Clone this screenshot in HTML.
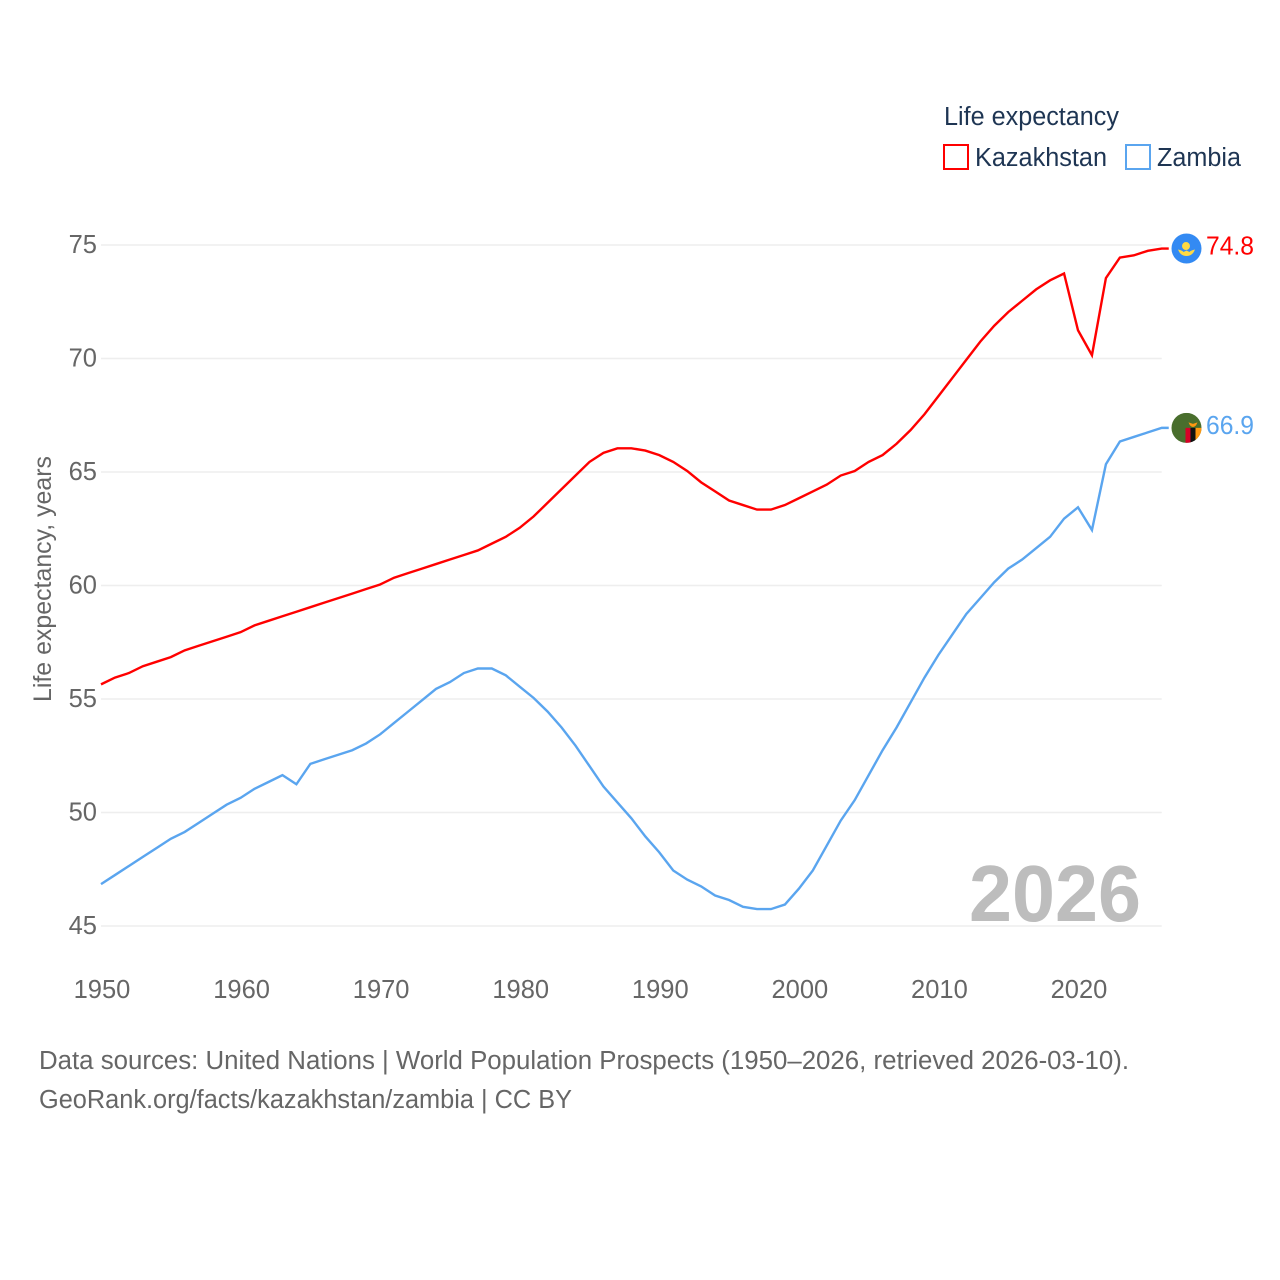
<!DOCTYPE html>
<html lang="en">
<head>
<meta charset="utf-8">
<title>Life expectancy: Kazakhstan and Zambia</title>
<style>
html,body{margin:0;padding:0;background:#fff;}
svg{display:block;}
text{font-family:"Liberation Sans",sans-serif;}
</style>
</head>
<body>
<svg id="chart" xmlns="http://www.w3.org/2000/svg" width="1280" height="1280" viewBox="0 0 1280 1280">
  <defs>
    <clipPath id="kz-clip"><circle cx="0" cy="0" r="15"/></clipPath>
    <clipPath id="zm-clip"><circle cx="0" cy="0" r="15"/></clipPath>
  </defs>
  <rect width="1280" height="1280" fill="#fff"/>
  <g id="grid"></g>
  <g id="yticks"></g>
  <g id="xticks"></g>
  <text transform="translate(51,702) rotate(-90)" font-size="25" fill="#666" textLength="246" lengthAdjust="spacingAndGlyphs">Life expectancy, years</text>
  <text x="969" y="921" font-size="80" font-weight="700" fill="#bdbdbd" textLength="172" lengthAdjust="spacingAndGlyphs">2026</text>
  <g id="series"></g>

  <g id="flag-kz">
    <g clip-path="url(#kz-clip)">
      <rect x="-15" y="-15" width="30" height="30" fill="#338af3"/>
      <circle cx="-0.5" cy="-2.5" r="4" fill="#ffda44"/>
      <path d="M-8.5 1 Q-4 2 -3 3.5 L0 2 L3 3.5 Q4 2 8.5 1 Q6 7.5 0 7.5 Q-6 7.5 -8.5 1Z" fill="#ffda44"/>
    </g>
  </g>
  <g id="flag-zm">
    <g clip-path="url(#zm-clip)">
      <rect x="-15" y="-15" width="30" height="30" fill="#496e2d"/>
      <rect x="-1" y="0" width="5" height="15" fill="#d80027"/>
      <rect x="4" y="0" width="5" height="15" fill="#111"/>
      <rect x="9" y="0" width="6" height="15" fill="#ff9811"/>
      <path d="M2 -5.5 L6.5 -4 L11 -5.5 L9.5 -2.5 L7.5 -1 L5.5 -1 L3.5 -2.5Z" fill="#ff9811"/>
    </g>
  </g>
  <text id="value-kz" font-size="25.5" fill="#ff0000" textLength="48" lengthAdjust="spacingAndGlyphs"></text>
  <text id="value-zm" font-size="25.5" fill="#5aa5ef" textLength="48" lengthAdjust="spacingAndGlyphs"></text>

  <g>
    <text x="944" y="125" font-size="25.5" fill="#1e3553" textLength="175" lengthAdjust="spacingAndGlyphs">Life expectancy</text>
    <g>
      <rect x="944" y="145" width="24" height="24" fill="#fff" stroke="#ff0000" stroke-width="2"/>
      <text x="975" y="166" font-size="25.5" fill="#1e3553" textLength="132" lengthAdjust="spacingAndGlyphs">Kazakhstan</text>
    </g>
    <g>
      <rect x="1126" y="145" width="24" height="24" fill="#fff" stroke="#5aa5ef" stroke-width="2"/>
      <text x="1157" y="166" font-size="25.5" fill="#1e3553" textLength="84" lengthAdjust="spacingAndGlyphs">Zambia</text>
    </g>
  </g>

  <text x="39" y="1069" font-size="25.5" fill="#666" textLength="1090" lengthAdjust="spacingAndGlyphs">Data sources: United Nations | World Population Prospects (1950–2026, retrieved 2026-03-10).</text>
  <text x="39" y="1108" font-size="25.5" fill="#666" textLength="533" lengthAdjust="spacingAndGlyphs">GeoRank.org/facts/kazakhstan/zambia | CC BY</text>
</svg>
<script>
const startYear = 1950;
const endYear = 2026;
const yTickValues = [45, 50, 55, 60, 65, 70, 75];
const xTickValues = [1950, 1960, 1970, 1980, 1990, 2000, 2010, 2020];
const kazakhstanValues = [
  55.6, 55.9, 56.1, 56.4, 56.6, 56.8, 57.1, 57.3, 57.5, 57.7,
  57.9, 58.2, 58.4, 58.6, 58.8, 59.0, 59.2, 59.4, 59.6, 59.8,
  60.0, 60.3, 60.5, 60.7, 60.9, 61.1, 61.3, 61.5, 61.8, 62.1,
  62.5, 63.0, 63.6, 64.2, 64.8, 65.4, 65.8, 66.0, 66.0, 65.9,
  65.7, 65.4, 65.0, 64.5, 64.1, 63.7, 63.5, 63.3, 63.3, 63.5,
  63.8, 64.1, 64.4, 64.8, 65.0, 65.4, 65.7, 66.2, 66.8, 67.5,
  68.3, 69.1, 69.9, 70.7, 71.4, 72.0, 72.5, 73.0, 73.4, 73.7,
  71.2, 70.1, 73.5, 74.4, 74.5, 74.7, 74.8
];
const zambiaValues = [
  46.8, 47.2, 47.6, 48.0, 48.4, 48.8, 49.1, 49.5, 49.9, 50.3,
  50.6, 51.0, 51.3, 51.6, 51.2, 52.1, 52.3, 52.5, 52.7, 53.0,
  53.4, 53.9, 54.4, 54.9, 55.4, 55.7, 56.1, 56.3, 56.3, 56.0,
  55.5, 55.0, 54.4, 53.7, 52.9, 52.0, 51.1, 50.4, 49.7, 48.9,
  48.2, 47.4, 47.0, 46.7, 46.3, 46.1, 45.8, 45.7, 45.7, 45.9,
  46.6, 47.4, 48.5, 49.6, 50.5, 51.6, 52.7, 53.7, 54.8, 55.9,
  56.9, 57.8, 58.7, 59.4, 60.1, 60.7, 61.1, 61.6, 62.1, 62.9,
  63.4, 62.4, 65.3, 66.3, 66.5, 66.7, 66.9
];

const NS = 'http://www.w3.org/2000/svg';
function xScale(year) {
  return 101 + (year - startYear) * (1078 - 101) / 70;
}
function yScale(value) {
  return 926 - (value - 45) * (926 - 245) / 30;
}
function make(tag, parent) {
  const el = document.createElementNS(NS, tag);
  parent.appendChild(el);
  return el;
}

const gridGroup = document.getElementById('grid');
const yGroup = document.getElementById('yticks');
yTickValues.forEach(function (v) {
  const line = make('line', gridGroup);
  
  
  line.setAttribute('x1', xScale(startYear));
  line.setAttribute('x2', xScale(endYear));
  line.setAttribute('y1', yScale(v));
  line.setAttribute('y2', yScale(v));
  line.setAttribute('stroke', '#eeeeee');
  line.setAttribute('stroke-width', '1.4');
  const label = make('text', yGroup);
  
  
  label.setAttribute('x', 97);
  label.setAttribute('y', yScale(v) + 8);
  label.setAttribute('text-anchor', 'end');
  label.setAttribute('font-size', '25.5');
  label.setAttribute('fill', '#666');
  label.textContent = v;
});

const xGroup = document.getElementById('xticks');
xTickValues.forEach(function (year) {
  const label = make('text', xGroup);
  
  
  label.setAttribute('x', xScale(year) + 1);
  label.setAttribute('y', 998);
  label.setAttribute('text-anchor', 'middle');
  label.setAttribute('font-size', '25.5');
  label.setAttribute('fill', '#666');
  label.textContent = year;
});

const seriesGroup = document.getElementById('series');
function drawSeries(values, color, name) {
  const pts = values.map(function (v, i) {
    return xScale(startYear + i).toFixed(2) + ',' + (yScale(v) - 1).toFixed(2);
  });
  const last = values[values.length - 1];
  pts.push((xScale(endYear) + 7).toFixed(2) + ',' + (yScale(last) - 1).toFixed(2));
  const line = make('polyline', seriesGroup);
  
  
  line.setAttribute('points', pts.join(' '));
  line.setAttribute('fill', 'none');
  line.setAttribute('stroke', color);
  line.setAttribute('stroke-width', '2.4');
  line.setAttribute('stroke-linejoin', 'miter');
}
drawSeries(kazakhstanValues, '#ff0000', 'kazakhstan-line');
drawSeries(zambiaValues, '#5aa5ef', 'zambia-line');

function placeEnd(values, flagId, valueId) {
  const last = values[values.length - 1];
  const cy = yScale(last) - 1;
  document.getElementById(flagId).setAttribute('transform', 'translate(1186.5,' + cy + ')');
  const t = document.getElementById(valueId);
  t.setAttribute('x', 1206);
  t.setAttribute('y', cy + 6);
  t.textContent = last.toFixed(1);
}
placeEnd(kazakhstanValues, 'flag-kz', 'value-kz');
placeEnd(zambiaValues, 'flag-zm', 'value-zm');
</script>
</body>
</html>
